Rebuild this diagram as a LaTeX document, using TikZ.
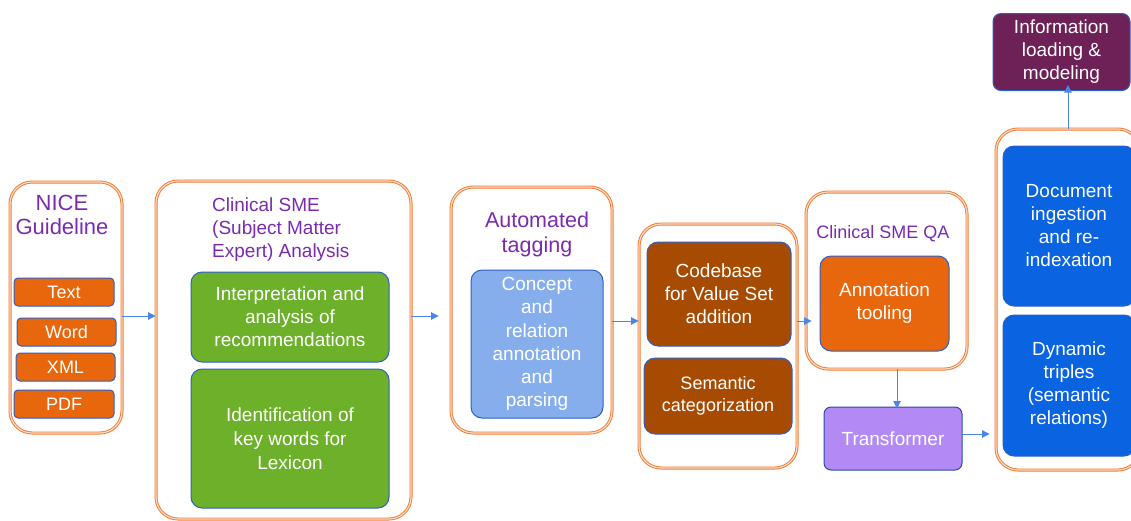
\documentclass[tikz,border=0pt]{standalone}
\usepackage{fontspec}
\setmainfont{Liberation Sans}
\usetikzlibrary{arrows.meta}
\definecolor{oline}{HTML}{F07A30}
\definecolor{oinner}{HTML}{FCD9C2}
\definecolor{ttl}{HTML}{7A2BB0}
\definecolor{ofill}{HTML}{E8660C}
\definecolor{bord}{HTML}{2F5FC8}
\definecolor{gfill}{HTML}{6DB02A}
\definecolor{lbfill}{HTML}{86AEEC}
\definecolor{brfill}{HTML}{A84B02}
\definecolor{trfill}{HTML}{B38AF5}
\definecolor{bfill}{HTML}{0A63E0}
\definecolor{pfill}{HTML}{6E2157}
\definecolor{arr}{HTML}{4A86E8}
\tikzset{
  outer/.style={draw=oline, double=oinner, double distance=1.2pt, line width=0.9pt, rounded corners=22pt, fill=white},
  inner/.style={draw=bord, line width=1pt, rounded corners=11pt, text=white, align=center, inner sep=0pt},
  small/.style={inner, rounded corners=4pt, fill=ofill, font=\fontsize{18}{21}\selectfont},
  ttlstyle/.style={text=ttl, inner sep=0pt},
  conn/.style={draw=arr, line width=0.9pt, -{Triangle[length=7.5pt,width=7.5pt]}},
}
\begin{document}
\begin{tikzpicture}[x=1pt,y=-1pt]
\useasboundingbox[fill=white] (0,0) rectangle (1131,520);
% NICE
\node[outer, minimum width=112pt, minimum height=251pt] (nice) at (66,307.5) {};
\node[ttlstyle, align=center, font=\fontsize{22}{23.5}\selectfont] (niceT) at (62,215) {NICE\\Guideline};
\node[small, minimum width=100pt, minimum height=28pt] (text) at (64,292) {Text};
\node[small, minimum width=99pt, minimum height=28pt] (word) at (66.5,332) {Word};
\node[small, minimum width=99pt, minimum height=28pt] (xml) at (65.5,367) {XML};
\node[small, minimum width=100pt, minimum height=28pt] (pdf) at (64,404) {PDF};
% SME
\node[outer, minimum width=255pt, minimum height=338pt] (sme) at (283.5,350) {};
\node[ttlstyle, align=left, anchor=west, font=\fontsize{19}{23}\selectfont] (smeT) at (212,230) {Clinical SME\\(Subject Matter\\Expert) Analysis};
\node[inner, fill=gfill, minimum width=198pt, minimum height=90pt, font=\fontsize{19}{23}\selectfont] (g1) at (290,317) {Interpretation and\\analysis of\\recommendations};
\node[inner, fill=gfill, minimum width=198pt, minimum height=139pt, font=\fontsize{19}{24}\selectfont] (g2) at (290,438.5) {Identification of\\key words for\\Lexicon};
% Automated
\node[outer, minimum width=161pt, minimum height=246pt] (auto) at (531.5,310) {};
\node[ttlstyle, align=center, font=\fontsize{21.5}{25}\selectfont] (autoT) at (537,234) {Automated\\tagging};
\node[inner, fill=lbfill, minimum width=132pt, minimum height=148pt, font=\fontsize{19}{23.2}\selectfont] (concept) at (537,344) {Concept\\and\\relation\\annotation\\and\\parsing};
% Codebase group
\node[outer, minimum width=158pt, minimum height=244pt] (code) at (718,346) {};
\node[inner, fill=brfill, minimum width=144pt, minimum height=104pt, font=\fontsize{19}{23}\selectfont] (codebase) at (719,294) {Codebase\\for Value Set\\addition};
\node[inner, fill=brfill, minimum width=148pt, minimum height=76pt, font=\fontsize{18}{22}\selectfont] (semantic) at (718,396) {Semantic\\categorization};
% QA
\node[outer, minimum width=161pt, minimum height=177pt] (qa) at (886.5,280.5) {};
\node[ttlstyle, font=\fontsize{18}{21}\selectfont] (qaT) at (883,234) {Clinical SME QA};
\node[inner, fill=ofill, minimum width=129pt, minimum height=95pt, font=\fontsize{19}{23}\selectfont] (annot) at (884.5,303.5) {Annotation\\tooling};
\node[inner, fill=trfill, draw=bord!80!black, rounded corners=7pt, minimum width=138pt, minimum height=63pt, font=\fontsize{19}{23}\selectfont] (trans) at (893,438.5) {Transformer};
% Right group
\node[outer, minimum width=144pt, minimum height=341pt] (right) at (1068,299.5) {};
\node[inner, fill=bfill, minimum width=132pt, minimum height=160pt, font=\fontsize{19}{23}\selectfont] (doc) at (1069,226) {Document\\ingestion\\and re-\\indexation};
\node[inner, fill=bfill, minimum width=132pt, minimum height=141pt, font=\fontsize{19}{23}\selectfont] (dyn) at (1069,385.5) {Dynamic\\triples\\(semantic\\relations)};
\node[inner, fill=pfill, rounded corners=8pt, minimum width=137pt, minimum height=77pt, font=\fontsize{19}{23}\selectfont] (info) at (1061.5,52) {Information\\loading \&\\modeling};
% connectors
\draw[conn] (nice.east |- 0,316) -- (sme.west |- 0,316);
\draw[conn] (sme.east |- 0,316) -- ([xshift=-12pt]auto.west |- 0,316);
\draw[conn] (auto.east |- 0,321) -- (code.west |- 0,321);
\draw[conn] (code.east |- 0,321) -- ([xshift=6pt]qa.west |- 0,321);
\draw[conn] (qa.south -| 897,0) -- ([yshift=-2pt]trans.north -| 897,0);
\draw[conn] (trans.east |- 0,434) -- ([xshift=-6pt]right.west |- 0,434);
\draw[conn] (right.north) -- ([yshift=6pt]info.south -| right.north);
\end{tikzpicture}
\end{document}
